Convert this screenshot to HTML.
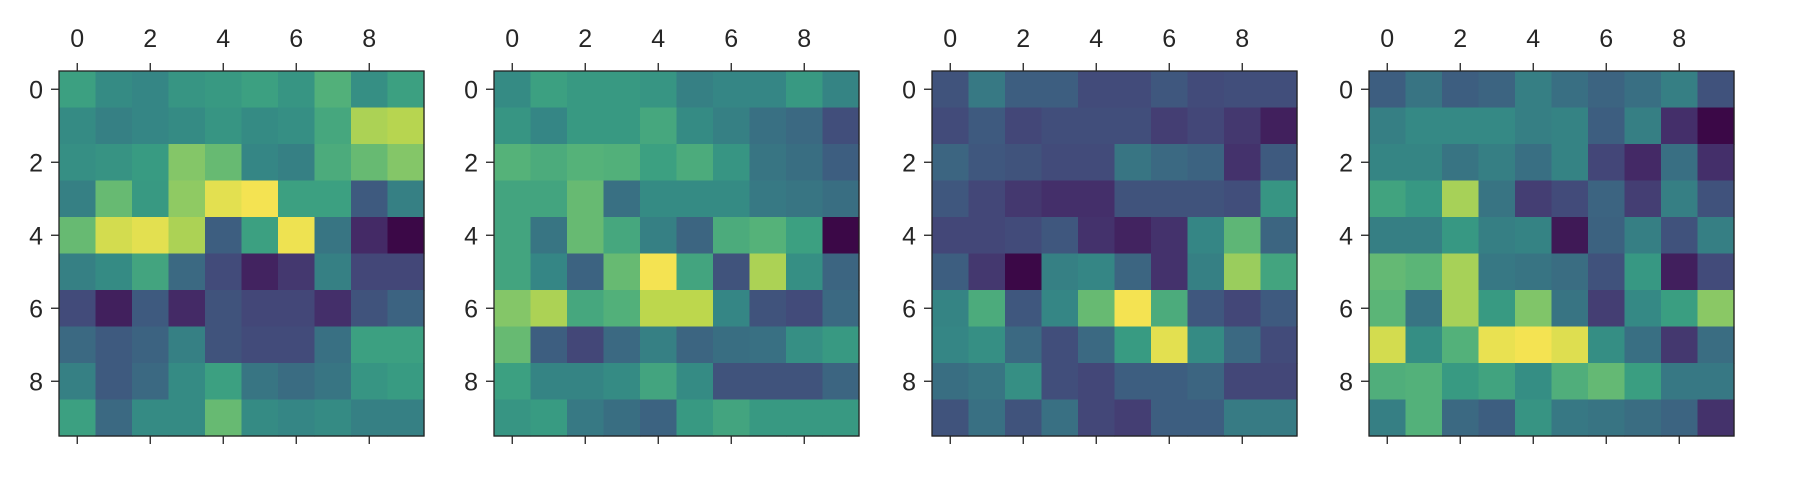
<!DOCTYPE html>
<html><head><meta charset="utf-8"><style>
html,body{margin:0;padding:0;background:#fff;}
svg{display:block;}
text{font-family:"Liberation Sans",sans-serif;font-size:25px;fill:#262626;}
</style></head><body>
<svg id="fig" width="1818" height="502" viewBox="0 0 1818 502"></svg>
<script>
const rowLabels = [0,1,2,3,4,5,6,7,8,9];
const colLabels = [0,1,2,3,4,5,6,7,8,9];
const tickLabels = ['0','2','4','6','8'];
const tickIndices = [0,2,4,6,8];
const panel1 = [
[.6,.5,.48,.55,.57,.6,.55,.67,.52,.6],
[.5,.45,.48,.5,.55,.5,.52,.63,.85,.87],
[.52,.54,.58,.78,.72,.48,.45,.65,.72,.78],
[.45,.72,.57,.8,.95,.98,.6,.6,.28,.45],
[.72,.92,.95,.85,.3,.6,.97,.4,.1,0],
[.45,.5,.62,.35,.22,.08,.15,.45,.2,.2],
[.22,.07,.28,.1,.25,.2,.2,.12,.25,.32],
[.35,.28,.32,.45,.25,.22,.22,.38,.6,.6],
[.45,.28,.35,.5,.6,.4,.36,.4,.55,.58],
[.6,.35,.5,.5,.72,.5,.48,.5,.45,.45]];
const panel2 = [
[.5,.6,.57,.57,.55,.45,.48,.48,.57,.47],
[.55,.48,.57,.57,.63,.5,.45,.38,.35,.23],
[.68,.65,.68,.67,.6,.65,.55,.4,.37,.3],
[.62,.62,.72,.38,.5,.5,.5,.42,.4,.37],
[.62,.4,.72,.63,.45,.33,.65,.68,.6,0],
[.62,.48,.32,.72,.98,.62,.25,.85,.52,.33],
[.78,.85,.63,.67,.88,.88,.48,.25,.22,.35],
[.72,.3,.2,.35,.45,.33,.37,.38,.52,.57],
[.6,.47,.47,.5,.62,.5,.25,.25,.25,.33],
[.55,.58,.42,.37,.32,.57,.62,.57,.57,.57]];
const panel3 = [
[.25,.42,.3,.3,.22,.22,.27,.22,.23,.23],
[.22,.28,.2,.23,.23,.23,.17,.2,.15,.07],
[.33,.27,.25,.22,.22,.4,.35,.32,.13,.28],
[.27,.2,.15,.12,.12,.25,.25,.25,.23,.55],
[.2,.2,.22,.27,.13,.08,.13,.48,.7,.33],
[.3,.15,0,.45,.48,.33,.13,.45,.82,.62],
[.47,.65,.27,.48,.72,.98,.65,.27,.2,.28],
[.48,.52,.35,.23,.35,.58,.95,.5,.35,.22],
[.37,.4,.52,.23,.2,.3,.3,.33,.2,.2],
[.25,.38,.25,.38,.2,.17,.3,.3,.43,.43]];
const panel4 = [
[.3,.4,.3,.33,.45,.38,.33,.38,.45,.25],
[.45,.5,.5,.5,.45,.47,.3,.45,.12,0],
[.48,.48,.4,.45,.38,.47,.2,.1,.38,.12],
[.62,.57,.85,.4,.17,.22,.33,.17,.45,.25],
[.45,.45,.57,.45,.47,.05,.32,.45,.25,.45],
[.72,.7,.85,.42,.4,.37,.25,.57,.07,.22],
[.7,.4,.85,.58,.78,.4,.17,.5,.6,.8],
[.93,.52,.68,.97,.99,.95,.52,.38,.15,.37],
[.67,.68,.58,.62,.52,.67,.72,.6,.42,.42],
[.45,.68,.35,.3,.55,.42,.4,.37,.33,.13]];
const panels = [panel1, panel2, panel3, panel4];

const NS = 'http://www.w3.org/2000/svg';
const svg = document.getElementById('fig');
const lefts = [59, 494, 932, 1369];
const top0 = 71, size = 365;
const stops = ['#440154','#482475','#414487','#355f8d','#2a788e','#21918c','#22a884','#44bf70','#7ad151','#bddf26','#fde725'];
function hex(h){return [1,3,5].map(i=>parseInt(h.substr(i,2),16));}
function viridis(t){
  t=Math.max(0,Math.min(1,t));const p=t*10,i=Math.min(9,Math.floor(p)),f=p-i;
  const a=hex(stops[i]),b=hex(stops[i+1]);
  let c=a.map((v,k)=>v+(b[k]-v)*f);
  const lum=0.3*c[0]+0.59*c[1]+0.11*c[2];
  c=c.map(v=>Math.round(v*0.75+lum*0.25));
  return 'rgb('+c.join(',')+')';
}
function mk(tag, attrs){const e=document.createElementNS(NS,tag);for(const k in attrs)e.setAttribute(k,attrs[k]);return e;}

panels.forEach((data, p) => {
  const L = lefts[p];
  const cell = size / colLabels.length;
  const xPos = c => L + c * cell;
  const yPos = r => top0 + r * cell;
  const flat = data.flat();
  const mn = Math.min(...flat), mx = Math.max(...flat);
  const g = mk('g', {});
  
  
  svg.appendChild(g);
  rowLabels.forEach((rl, r) => {
    colLabels.forEach((cl, c) => {
      const rect = mk('rect', {x: xPos(c), y: yPos(r), width: cell + 0.6, height: cell + 0.6, fill: viridis((data[r][c] - mn) / (mx - mn))});
      
      
      g.appendChild(rect);
    });
  });
  const frame = mk('rect', {x: L, y: top0, width: size, height: size, fill: 'none', stroke: '#222', 'stroke-width': 1.3});
  
  
  g.appendChild(frame);
  tickIndices.forEach((ti, k) => {
    const cx = xPos(ti) + cell / 2, cy = yPos(ti) + cell / 2;
    const t1 = mk('line', {x1: cx, x2: cx, y1: top0 - 8, y2: top0, stroke: '#222', 'stroke-width': 1.3});
    
    
    g.appendChild(t1);
    const t2 = mk('line', {x1: cx, x2: cx, y1: top0 + size, y2: top0 + size + 8, stroke: '#222', 'stroke-width': 1.3});
    
    
    g.appendChild(t2);
    const t3 = mk('line', {x1: L - 8, x2: L, y1: cy, y2: cy, stroke: '#222', 'stroke-width': 1.3});
    
    
    g.appendChild(t3);
    const xl = mk('text', {x: cx, y: 47, 'text-anchor': 'middle'});
    xl.textContent = tickLabels[k];
    
    
    g.appendChild(xl);
    const yl = mk('text', {x: L - 16, y: cy + 9, 'text-anchor': 'end'});
    yl.textContent = tickLabels[k];
    
    
    g.appendChild(yl);
  });
});
</script>
</body></html>
